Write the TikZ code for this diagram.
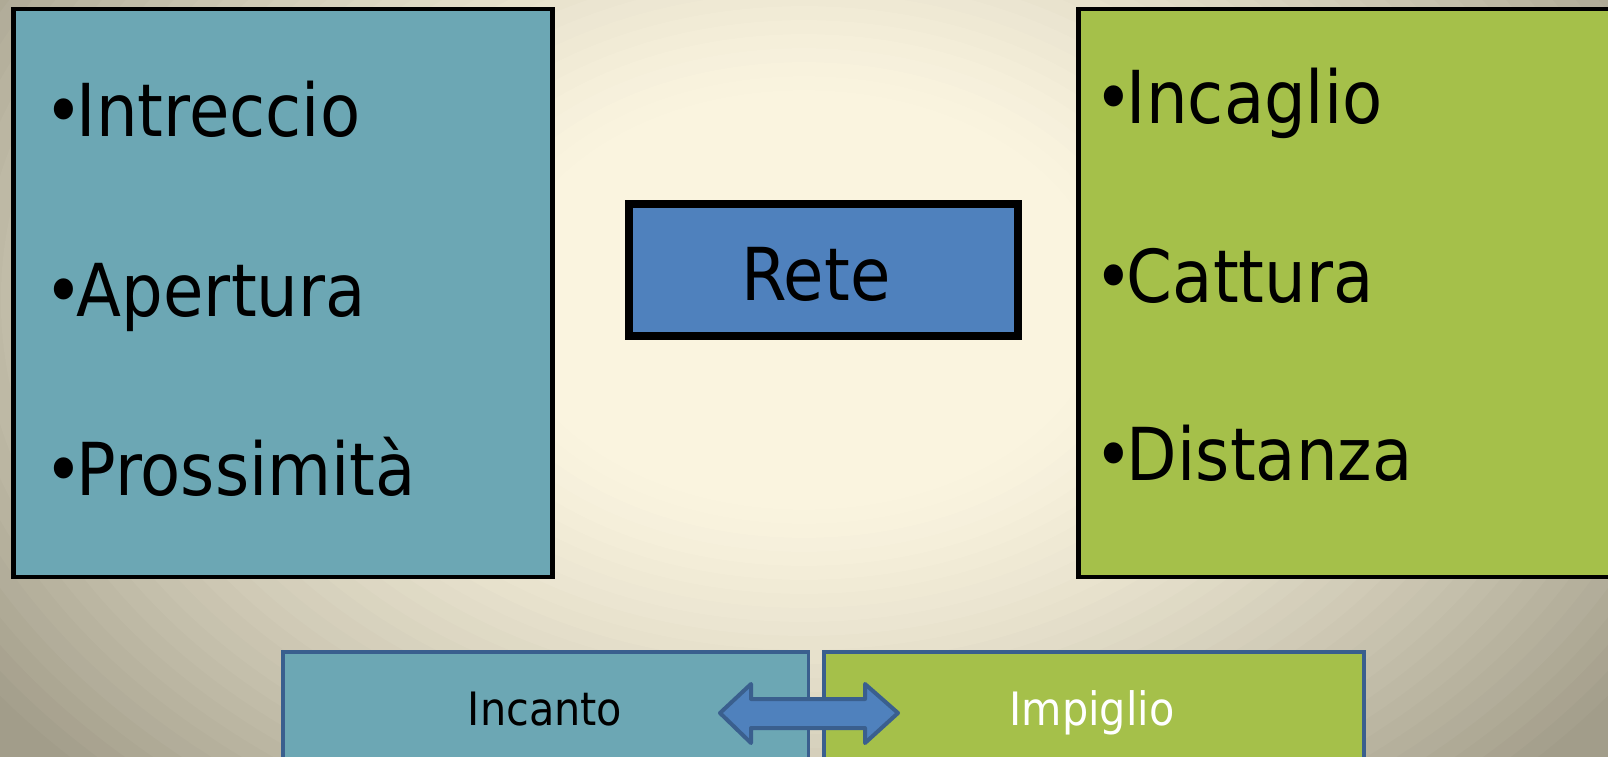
\documentclass[tikz,border=0pt]{standalone}
\usepackage{fontspec}
\setmainfont{DejaVu Sans Condensed}
\definecolor{sfondoA}{HTML}{FAF4DF}
\definecolor{sfondoG}{HTML}{A29D8A}
\definecolor{azzurro}{HTML}{6CA7B4}
\definecolor{verde}{HTML}{A5C04A}
\definecolor{blu}{HTML}{4F81BD}
\definecolor{bordoblu}{HTML}{3A5F8E}
\newcommand{\pallino}{•\kern-6pt}

\begin{document}
\begin{tikzpicture}[x=1pt,y=-1pt,
	riquadro/.style = {draw=black,line width=4.5pt,anchor=north west,inner sep=0pt,outer sep=0pt},
	voce/.style = {anchor=base west,inner sep=0pt,font=\fontsize{73}{73}\selectfont},
	tasto/.style = {draw=bordoblu,line width=3.5pt,anchor=north west,inner sep=0pt,outer sep=0pt,minimum height=130pt},
	piccola/.style = {anchor=base,inner sep=0pt,font=\fontsize{46}{46}\selectfont}]
		\useasboundingbox (0,0) rectangle (1608,756);
		\clip (0,0) rectangle (1608,756);
		\fill[sfondoG] (-20,-20) rectangle (1630,780);
		\foreach \r in {1.00,0.98,...,0.02} {
			\pgfmathsetmacro\scuro{100*(max(0,(\r-0.3)/0.7))^1.3}
			\fill[sfondoG!\scuro!sfondoA] (804,300) ellipse [x radius=1004*\r, y radius=700*\r];
		}
		
		\node[riquadro, fill=azzurro, minimum width=539pt, minimum height=568pt] (L) at (13.5,9) {};
		\node[riquadro, fill=verde, minimum width=560pt, minimum height=568pt] (R) at (1078.5,9) {};
		\node[riquadro, fill=blu, line width=8pt, minimum width=389pt, minimum height=132pt] (C) at (629,204) {};
		
		\node[voce] (L1) at (44,136) {\pallino Intreccio};
		\node[voce] (L2) at (44,316) {\pallino Apertura};
		\node[voce] (L3) at (44,495) {\pallino Prossimità};
		\node[voce] (R1) at (1094,123) {\pallino Incaglio};
		\node[voce] (R2) at (1094,302) {\pallino Cattura};
		\node[voce] (R3) at (1094,480) {\pallino Distanza};
		\node[anchor=base, inner sep=0pt, font=\fontsize{73}{73}\selectfont] (T) at (816,300) {Rete};
		
		\node[tasto, fill=azzurro, minimum width=525.5pt] (B1) at (283,652) {};
		\node[tasto, fill=verde, minimum width=540pt] (B2) at (824,652) {};
		\node[piccola] (I1) at (545,725) {Incanto};
		\node[piccola, text=white] (I2) at (1092,725) {Impiglio};
		
		\draw[bordoblu, fill=blu, line width=4pt, line join=round] (720,713) -- (751,684) -- (751,699) -- (865,699) -- (865,684) -- (898,713) -- (865,743) -- (865,728) -- (751,728) -- (751,743) -- cycle;
	\end{tikzpicture}
\end{document}
